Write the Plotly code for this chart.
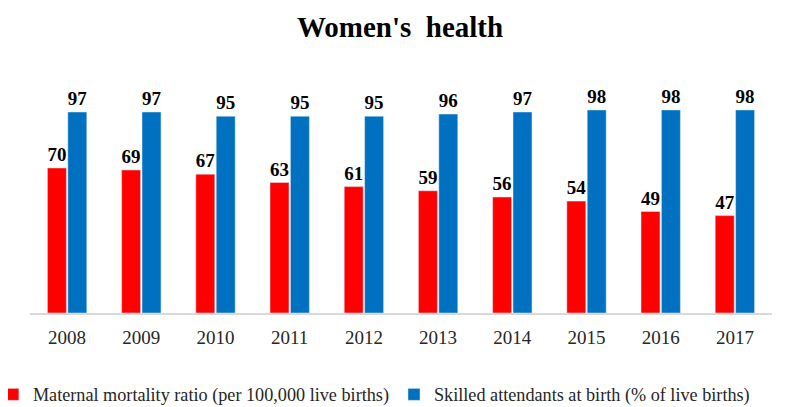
import plotly.graph_objects as go

years = ["2008", "2009", "2010", "2011", "2012", "2013", "2014", "2015", "2016", "2017"]
maternal_mortality = [70, 69, 67, 63, 61, 59, 56, 54, 49, 47]
skilled_attendants = [97, 97, 95, 95, 95, 96, 97, 98, 98, 98]

font_family = "Liberation Serif, Times New Roman, serif"

fig = go.Figure()
fig.add_trace(go.Bar(
    x=years, y=maternal_mortality,
    name="Maternal mortality ratio (per 100,000 live births)",
    marker=dict(color="#FF0000"),
    text=maternal_mortality, textposition="outside", cliponaxis=False,
    textfont=dict(family=font_family, size=20, color="#000000", weight="bold"),
))
fig.add_trace(go.Bar(
    x=years, y=skilled_attendants,
    name="Skilled attendants at birth (% of live births)",
    marker=dict(color="#0070C0"),
    text=skilled_attendants, textposition="outside", cliponaxis=False,
    textfont=dict(family=font_family, size=20, color="#000000", weight="bold"),
))

# page body has an 8px default margin, so the figure is sized 784x399
fig.update_layout(
    width=784, height=399,
    margin=dict(l=22, r=20, t=72, b=94, autoexpand=False),
    paper_bgcolor="white", plot_bgcolor="white",
    title=dict(text="<b>Women's  health</b>", x=0.5, xanchor="center", y=0.952, yanchor="middle",
               font=dict(family=font_family, size=29, color="#000000")),
    barmode="group", bargap=0.45, bargroupgap=0.07,
    showlegend=True,
    legend=dict(orientation="h", x=-0.05, xanchor="left", y=-0.35, yanchor="middle",
                font=dict(family=font_family, size=18.2, color="#262626"),
                itemwidth=30, tracegroupgap=0, traceorder="normal"),
    font=dict(family=font_family),
)
fig.update_xaxes(showline=True, linecolor="#D9D9D9", linewidth=2, ticks="",
                 ticklabelstandoff=6,
                 tickfont=dict(family=font_family, size=19, color="#262626"), showgrid=False)
fig.update_yaxes(range=[0, 112.45], visible=False, showgrid=False)

fig.write_html("out.html")
